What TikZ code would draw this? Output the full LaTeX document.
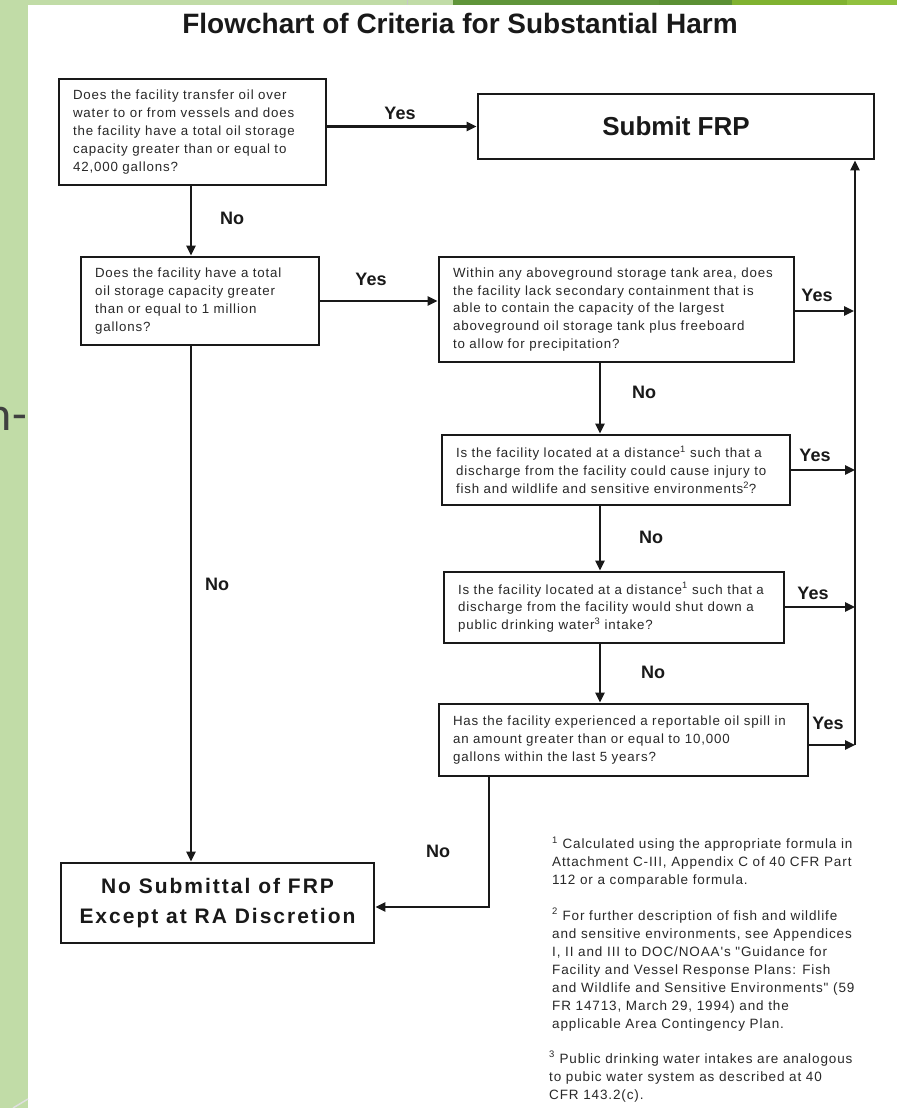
\documentclass[tikz,border=0pt]{standalone}
\usepackage{fontspec}
\setmainfont{Liberation Sans}
\newfontfamily\spaced[LetterSpace=6.5]{Liberation Sans}
\newfontfamily\spacedB[LetterSpace=9.5]{Liberation Sans}
\newfontfamily\carl{Carlito}
\usetikzlibrary{arrows.meta}
\definecolor{lgreen}{RGB}{193,220,167}
\definecolor{dgreen}{RGB}{96,149,58}
\definecolor{dgreenb}{RGB}{91,144,52}
\definecolor{ygreen}{RGB}{128,178,48}
\definecolor{ygreenb}{RGB}{145,193,62}
\definecolor{ink}{RGB}{25,25,25}
\definecolor{txt}{RGB}{40,40,40}
\definecolor{slidetxt}{RGB}{64,64,64}
\tikzset{
  qbox/.style={draw=ink, line width=2.6pt, inner xsep=14pt, inner ysep=0pt, align=left,
    text=txt, font=\spaced\fontsize{13.3}{17.8}\selectfont},
  bigbox/.style={draw=ink, line width=2.6pt, inner sep=0pt, align=center, text=ink},
  conn/.style={draw=ink, line width=2.4pt},
  arr/.style={conn, -{Triangle[length=10pt,width=9pt]}},
  lab/.style={inner sep=0pt, text=ink, font=\bfseries\fontsize{18}{20}\selectfont},
  fnote/.style={inner sep=0pt, align=left, text=txt, font=\spaced\fontsize{13.5}{18}\selectfont}
}
\begin{document}
\begin{tikzpicture}[x=1pt,y=-1pt]
\useasboundingbox (0,0) rectangle (897,1108);
\fill[white] (0,0) rectangle (897,1108);
% slide decorations
\fill[lgreen] (0,0) rectangle (28,1108);
\fill[lgreen] (0,0) rectangle (453,5);
\fill[dgreen] (453,0) rectangle (659,5);
\fill[dgreenb] (659,0) rectangle (732,5);
\fill[ygreen] (732,0) rectangle (847,5);
\fill[ygreenb] (847,0) rectangle (897,5);
\draw[gray!45, line width=1pt] (407,0) -- (407,5);
\draw[gray!25, line width=1.5pt] (13,1108) -- (28,1099);
\node[anchor=base east, inner sep=0pt, text=slidetxt, font=\carl\fontsize{48}{50}\selectfont] (slide) at (27,430) {n-};

% title
\node[inner sep=0pt, text=ink, font=\bfseries\fontsize{28}{32}\selectfont] (title) at (460,23) {Flowchart of Criteria for Substantial Harm};

% boxes
\node[qbox, text width=239pt, minimum height=106pt] (b1) at (192.5,132)
  {Does the facility transfer oil over\\water to or from vessels and does\\the facility have a total oil storage\\capacity greater than or equal to\\42,000 gallons?};
\node[bigbox, minimum width=396pt, minimum height=65pt, font=\bfseries\fontsize{26}{30}\selectfont] (sub) at (676,126.5) {Submit FRP};
\node[qbox, text width=210pt, minimum height=88pt] (b2) at (200,301)
  {Does the facility have a total\\oil storage capacity greater\\than or equal to 1 million\\gallons?};
\node[qbox, text width=327pt, minimum height=105pt] (b3) at (616.5,309.5)
  {Within any aboveground storage tank area, does\\the facility lack secondary containment that is\\able to contain the capacity of the largest\\aboveground oil storage tank plus freeboard\\to allow for precipitation?};
\node[qbox, text width=320pt, minimum height=70pt] (b4) at (616,470)
  {Is the facility located at a distance\textsuperscript{1} such that a\\discharge from the facility could cause injury to\\fish and wildlife and sensitive environments\textsuperscript{2}?};
\node[qbox, text width=312pt, minimum height=71pt] (b5) at (614,607.5)
  {Is the facility located at a distance\textsuperscript{1} such that a\\discharge from the facility would shut down a\\public drinking water\textsuperscript{3} intake?};
\node[qbox, text width=341pt, minimum height=72pt] (b6) at (623.5,740)
  {Has the facility experienced a reportable oil spill in\\an amount greater than or equal to 10,000\\gallons within the last 5 years?};
\node[bigbox, minimum width=313pt, minimum height=80pt, font=\spacedB\bfseries\fontsize{21}{30}\selectfont] (b7) at (217.5,903)
  {\raisebox{-2pt}{No Submittal of FRP}\\\raisebox{-2pt}{Except at RA Discretion}};

% helper coordinates
\coordinate (cx) at (600,0);
\coordinate (vl) at (855,745);
\coordinate (c6) at (489,907);
\coordinate (cl) at (191,0);

% connectors
\draw[arr] (b1.east |- sub.west) -- (sub.west);
\draw[arr] (cl |- b1.south) -- (cl |- b2.north);
\draw[arr] (b2.east) -- (b2.east -| b3.west);
\draw[arr] (cl |- b2.south) -- (cl |- b7.north);
\draw[arr] (b3.east |- 0,311) -- (854,311);
\draw[arr] (b4.east) -- (b4.east -| vl);
\draw[arr] ([yshift=0.5pt]b5.east) -- ([yshift=0.5pt]b5.east -| vl);
\draw[arr] ([yshift=-5pt]b6.east) -- (vl);
\draw[arr] (vl) -- (vl |- sub.south);
\draw[arr] (cx |- b3.south) -- (cx |- b4.north);
\draw[arr] (cx |- b4.south) -- (cx |- b5.north);
\draw[arr] (cx |- b5.south) -- (cx |- b6.north);
\draw[arr] (c6 |- b6.south) -- (c6) -- (c6 -| b7.east);

% labels
\node[lab] (y1) at (400,113) {Yes};
\node[lab] (n1) at (232,218) {No};
\node[lab] (y2) at (371,279) {Yes};
\node[lab] (y3) at (817,295) {Yes};
\node[lab] (n3) at (644,392) {No};
\node[lab] (y4) at (815,455) {Yes};
\node[lab] (n4) at (651,537) {No};
\node[lab] (y5) at (813,593) {Yes};
\node[lab] (n5) at (653,672) {No};
\node[lab] (y6) at (828,723) {Yes};
\node[lab] (n2) at (217,584) {No};
\node[lab] (n6) at (438,851) {No};

% footnotes
\node[fnote, anchor=north west] (fn1) at (552,837)
  {\textsuperscript{1} Calculated using the appropriate formula in\\Attachment C-III, Appendix C of 40 CFR Part\\112 or a comparable formula.};
\node[fnote, anchor=north west] (fn2) at (552,908)
  {\textsuperscript{2} For further description of fish and wildlife\\and sensitive environments, see Appendices\\I, II and III to DOC/NOAA's "Guidance for\\Facility and Vessel Response Plans: Fish\\and Wildlife and Sensitive Environments" (59\\FR 14713, March 29, 1994) and the\\applicable Area Contingency Plan.};
\node[fnote, anchor=north west] (fn3) at (549,1051)
  {\textsuperscript{3} Public drinking water intakes are analogous\\to pubic water system as described at 40\\CFR 143.2(c).};
\end{tikzpicture}
\end{document}
